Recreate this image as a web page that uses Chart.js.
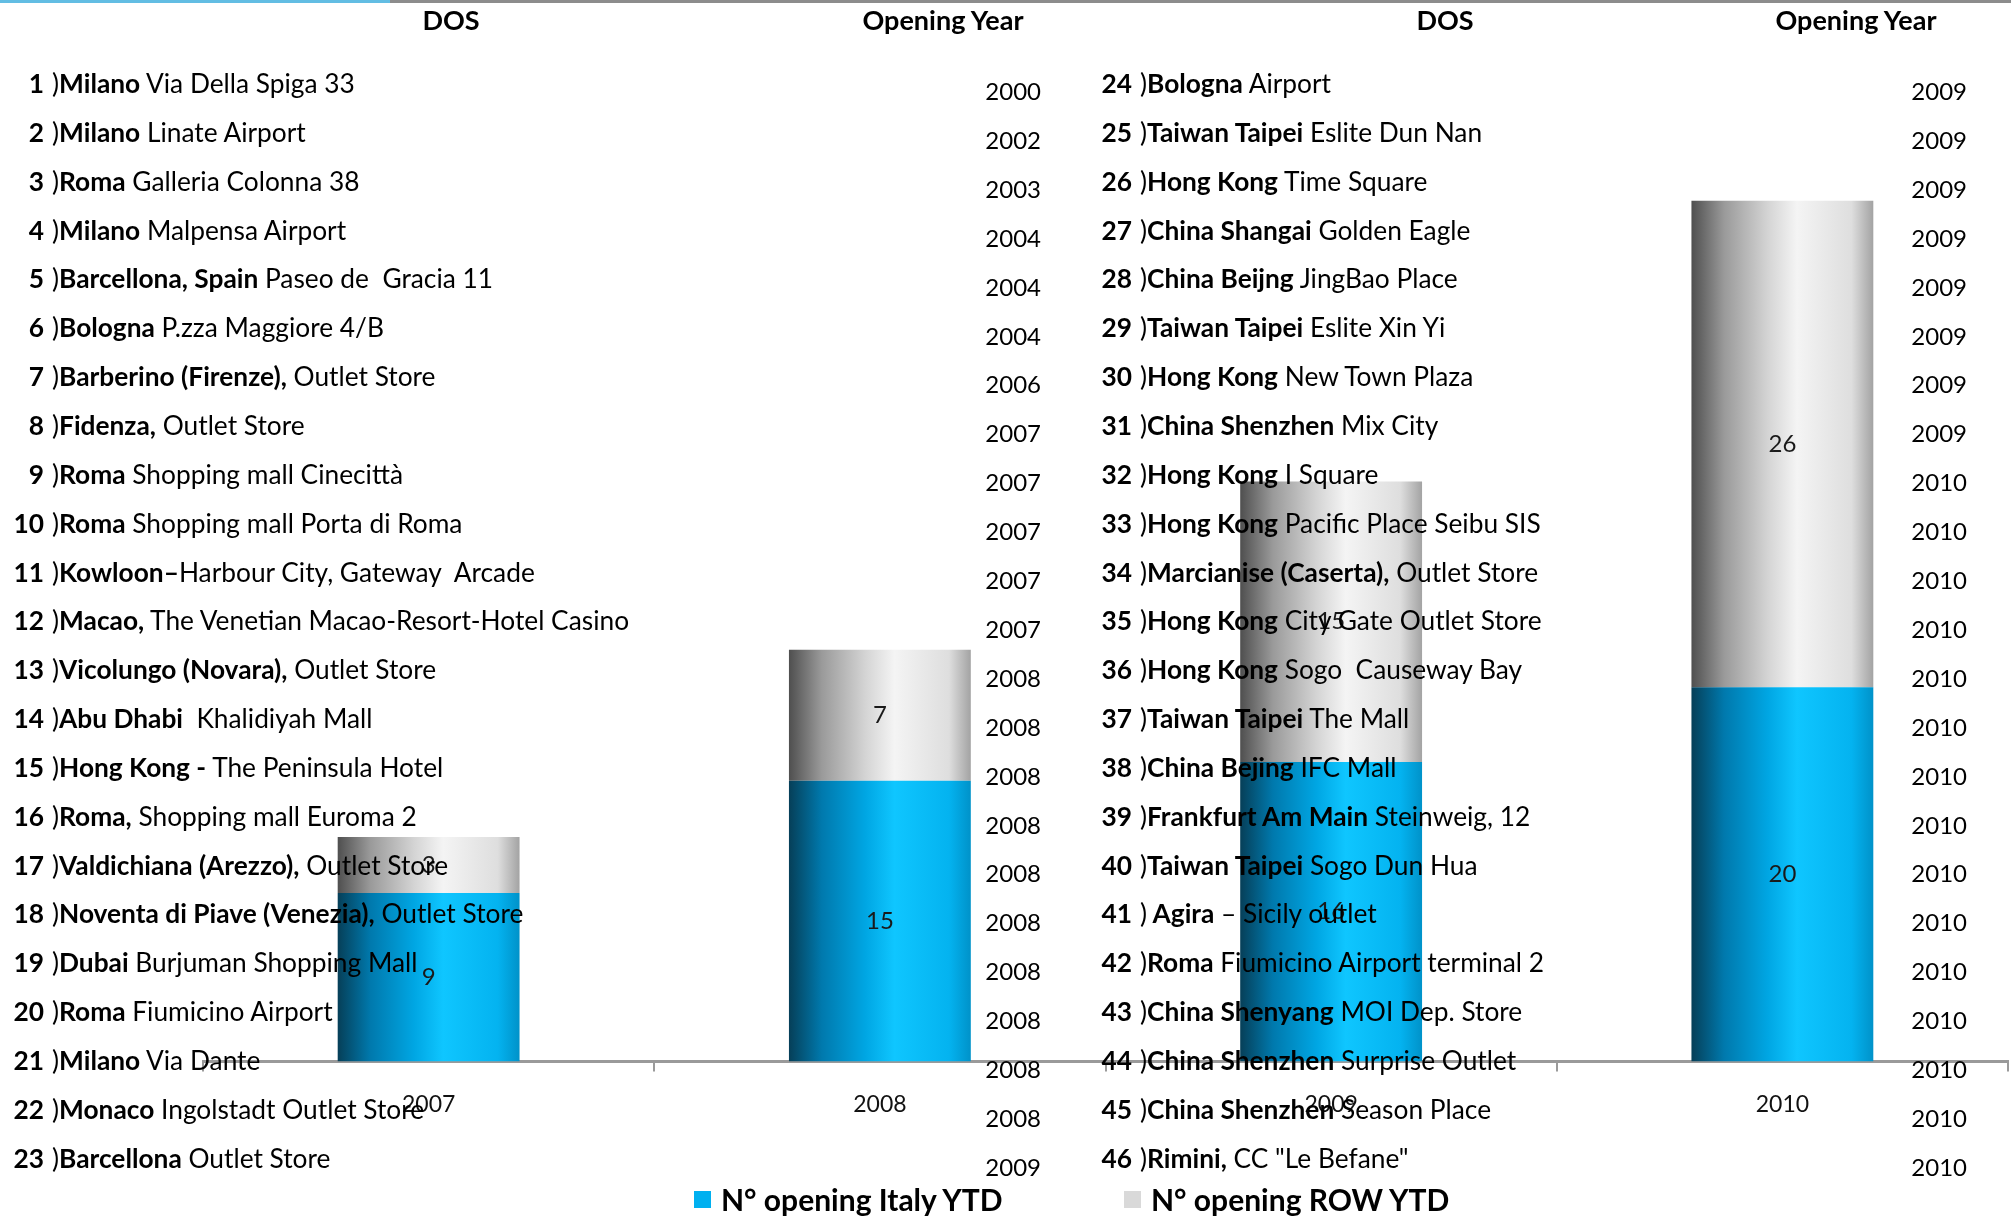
<!DOCTYPE html>
<html>
<head>
<meta charset="utf-8">
<script src="https://cdn.jsdelivr.net/npm/chart.js@4.4.1/dist/chart.umd.min.js"></script>
<style>
    html, body { margin: 0; padding: 0; background: #fff; }
    #wrap { position: relative; width: 2011px; height: 1216px; overflow: hidden; font-family: Lato, "Open Sans", sans-serif; color: #000; }
    #chart { position: absolute; left: 0; top: 0; }
    #texts { position: absolute; left: 0; top: 0; width: 2011px; height: 1216px; }
    .line-blue { position: absolute; left: 0; top: 0; width: 390px; height: 3px; background: #62bde3; }
    .line-grey { position: absolute; left: 390px; top: 0; width: 1621px; height: 3px; background: #8c8c8c; }
    .hdr { position: absolute; top: 5px; font-weight: 700; font-size: 27px; line-height: 30px; transform: translateX(-50%); white-space: nowrap; }
    .row { position: absolute; font-size: 26.3px; line-height: 30px; white-space: pre; }
    .row .num { display: inline-block; width: 44px; padding-right: 8px; text-align: right; font-weight: 700; box-sizing: content-box; }
    .row b { font-weight: 700; }
    .yr { position: absolute; width: 80px; font-size: 24px; line-height: 30px; text-align: right; }
    .leg { position: absolute; top: 1181px; font-size: 30px; font-weight: 700; line-height: 36px; white-space: nowrap; }
    .leg i { position: absolute; left: -27px; top: 10px; width: 17px; height: 17px; }
</style>
</head>
<body>
<div id="wrap">
    <canvas id="chart" width="2011" height="1216"></canvas>
    <div id="texts">
        <div class="line-blue"></div>
        <div class="line-grey"></div>
    </div>
</div>
<script>
// bar chart data
var years = ['2007', '2008', '2009', '2010'];
var italyOpenings = [9, 15, 16, 20];
var rowOpenings = [3, 7, 15, 26];
var seriesNames = ['N° opening Italy YTD', 'N° opening ROW YTD'];
var seriesColors = ['#00b0f0', '#d9d9d9'];

// store list (DOS)
var dosCity = [
    'Milano', 'Milano', 'Roma', 'Milano', 'Barcellona, Spain', 'Bologna',
    'Barberino (Firenze),', 'Fidenza,', 'Roma', 'Roma', 'Kowloon–',
    'Macao,', 'Vicolungo (Novara),', 'Abu Dhabi', 'Hong Kong -', 'Roma,',
    'Valdichiana (Arezzo),', 'Noventa di Piave (Venezia),', 'Dubai', 'Roma',
    'Milano', 'Monaco', 'Barcellona',
    'Bologna', 'Taiwan Taipei', 'Hong Kong', 'China Shangai', 'China Beijng',
    'Taiwan Taipei', 'Hong Kong', 'China Shenzhen', 'Hong Kong', 'Hong Kong',
    'Marcianise (Caserta),', 'Hong Kong', 'Hong Kong', 'Taiwan Taipei',
    'China Bejing', 'Frankfurt Am Main', 'Taiwan Taipei', ' Agira',
    'Roma', 'China Shenyang', 'China Shenzhen', 'China Shenzhen', 'Rimini,'
];
var dosPlace = [
    'Via Della Spiga 33', 'Linate Airport', 'Galleria Colonna 38', 'Malpensa Airport',
    'Paseo de  Gracia 11', 'P.zza Maggiore 4/B', 'Outlet Store', 'Outlet Store',
    'Shopping mall Cinecittà', 'Shopping mall Porta di Roma', 'Harbour City, Gateway  Arcade',
    'The Venetian Macao-Resort-Hotel Casino', 'Outlet Store', ' Khalidiyah Mall',
    'The Peninsula Hotel', 'Shopping mall Euroma 2', 'Outlet Store', 'Outlet Store',
    'Burjuman Shopping Mall', 'Fiumicino Airport', 'Via Dante', 'Ingolstadt Outlet Store',
    'Outlet Store',
    'Airport', 'Eslite Dun Nan', 'Time Square', 'Golden Eagle', 'JingBao Place',
    'Eslite Xin Yi', 'New Town Plaza', 'Mix City', 'I Square', 'Pacific Place Seibu SIS',
    'Outlet Store', 'City Gate Outlet Store', 'Sogo  Causeway Bay', 'The Mall', 'IFC Mall',
    'Steinweig, 12', 'Sogo Dun Hua', '– Sicily outlet', 'Fiumicino Airport terminal 2',
    'MOI Dep. Store', 'Surprise Outlet', 'Season Place', 'CC "Le Befane"'
];
var dosYear = [
    2000, 2002, 2003, 2004, 2004, 2004, 2006, 2007, 2007, 2007, 2007, 2007,
    2008, 2008, 2008, 2008, 2008, 2008, 2008, 2008, 2008, 2008, 2009,
    2009, 2009, 2009, 2009, 2009, 2009, 2009, 2009, 2010, 2010, 2010, 2010,
    2010, 2010, 2010, 2010, 2010, 2010, 2010, 2010, 2010, 2010, 2010
];

// table text
var texts = document.getElementById('texts');
function addDiv(cls, html, css) {
    var d = document.createElement('div');
    d.className = cls;
    d.innerHTML = html;
    for (var k in css) d.style[k] = css[k];
    texts.appendChild(d);
    return d;
}
function esc(s) {
    return s.replace(/&/g, '&amp;').replace(/</g, '&lt;').replace(/"/g, '&quot;');
}

addDiv('hdr', 'DOS', {left: '451px'});
addDiv('hdr', 'Opening Year', {left: '943px'});
addDiv('hdr', 'DOS', {left: '1445px'});
addDiv('hdr', 'Opening Year', {left: '1856px'});

var perCol = 23;
for (var i = 0; i < dosCity.length; i++) {
    var col = Math.floor(i / perCol);
    var r = i % perCol;
    var sep = /–$/.test(dosCity[i]) ? '' : ' ';
    var html = '<span class="num">' + (i + 1) + '</span>)<b>' + esc(dosCity[i]) + '</b>' + sep + esc(dosPlace[i]);
    addDiv('row', html, {left: (col ? 1088 : 0) + 'px', top: (68 + r * 48.85) + 'px'});
    addDiv('yr', String(dosYear[i]), {left: (col ? 1887 : 961) + 'px', top: (76 + r * 48.9) + 'px'});
}

// cylinder-like shading for the bars
var shades = {
    italy: ['#063f58', '#0079ad', '#00a6e3', '#0fc6ff', '#04b3f0', '#0092c9'],
    row:   ['#4f4f4f', '#9a9a9a', '#d4d4d4', '#f4f4f4', '#dedede', '#a3a3a3']
};
var barPct = 0.403;

function barFill(key, flat) {
    return function (c) {
        var chart = c.chart;
        if (c.dataIndex === undefined || !chart.chartArea) return flat;
        var x = chart.scales.x;
        var cx = x.getPixelForValue(c.dataIndex);
        var half = x.width / years.length * barPct / 2;
        var g = chart.ctx.createLinearGradient(cx - half, 0, cx + half, 0);
        var stops = [0, 0.18, 0.42, 0.58, 0.88, 1];
        shades[key].forEach(function (col, k) { g.addColorStop(stops[k], col); });
        return g;
    };
}

var valueLabels = {
    id: 'valueLabels',
    afterDatasetsDraw: function (chart) {
        var ctx = chart.ctx;
        ctx.save();
        ctx.font = '24px Lato, sans-serif';
        ctx.fillStyle = '#1a1a1a';
        ctx.textAlign = 'center';
        ctx.textBaseline = 'middle';
        chart.data.datasets.forEach(function (ds, i) {
            chart.getDatasetMeta(i).data.forEach(function (bar, j) {
                ctx.fillText(ds.data[j], bar.x, (bar.y + bar.base) / 2);
            });
        });
        ctx.restore();
    }
};

var myChart = new Chart(document.getElementById('chart'), {
    type: 'bar',
    data: {
        labels: years,
        datasets: [
            { label: seriesNames[0], data: italyOpenings, backgroundColor: barFill('italy', seriesColors[0]) },
            { label: seriesNames[1], data: rowOpenings, backgroundColor: barFill('row', seriesColors[1]) }
        ]
    },
    options: {
        responsive: false,
        animation: false,
        events: [],
        layout: { padding: { left: 203, right: 3, top: 126, bottom: 79 } },
        datasets: { bar: { categoryPercentage: 1, barPercentage: barPct } },
        scales: {
            x: {
                stacked: true,
                border: { display: true, color: '#9a9a9a', width: 3 },
                grid: { display: true, drawOnChartArea: false, drawTicks: true, tickLength: 10, color: '#9a9a9a', lineWidth: 2 },
                ticks: { color: '#111', padding: 19, font: { family: 'Lato', size: 23 } }
            },
            y: { stacked: true, display: false, min: 0, max: 50 }
        },
        plugins: {
            legend: { display: false },
            tooltip: { enabled: false }
        }
    },
    plugins: [valueLabels]
});

// legend built from the chart's own legend items (flat series colours for the squares)
var items = myChart.options.plugins.legend.labels.generateLabels(myChart);
var legLeft = [721, 1151];
items.forEach(function (it, k) {
    var d = addDiv('leg', esc(it.text), {left: legLeft[k] + 'px'});
    var sq = document.createElement('i');
    sq.style.background = seriesColors[it.datasetIndex];
    d.insertBefore(sq, d.firstChild);
});
</script>
</body>
</html>
